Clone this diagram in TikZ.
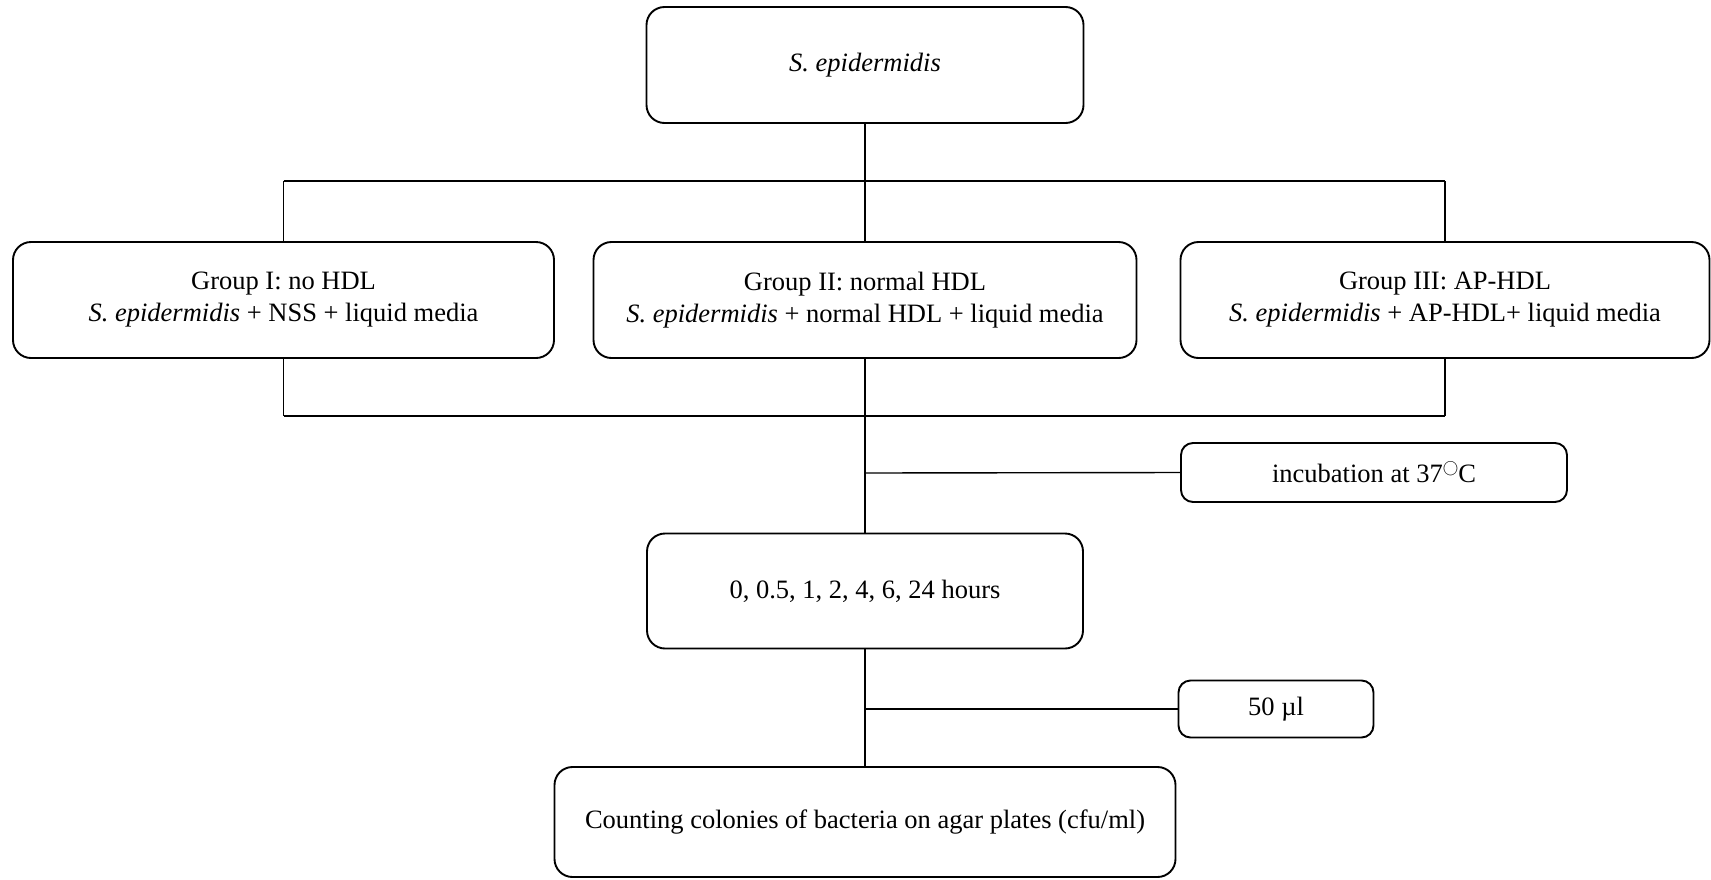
\documentclass[tikz,border=0pt]{standalone}
\usepackage{fontspec}
\setmainfont{Liberation Serif}
\newcommand{\degcirc}{\raisebox{0.85ex}{\scalebox{0.62}{$\bigcirc$}}}
\begin{document}
\begin{tikzpicture}[x=1pt,y=-1pt,
  box/.style={draw, line width=1.9pt, rounded corners=18pt, align=center, inner sep=0pt,
    font=\fontsize{26.5}{32}\selectfont},
  conn/.style={line width=1.4pt},
  bus/.style={line width=2.4pt}]
\useasboundingbox (0,0) rectangle (1711,879);
\node[box, minimum width=437pt, minimum height=116pt] (top) at (865,65) {\textit{S. epidermidis}};
\node[box, minimum width=541pt, minimum height=116pt] (g1) at (283.5,300) {Group I: no HDL\\\textit{S. epidermidis} + NSS + liquid media};
\node[box, minimum width=543pt, minimum height=116pt] (g2) at (865,300) {Group II: normal HDL\\\textit{S. epidermidis} + normal HDL + liquid media};
\node[box, minimum width=529pt, minimum height=116pt] (g3) at (1445,300) {Group III: AP-HDL\\\textit{S. epidermidis} + AP-HDL+ liquid media};
\node[box, rounded corners=12pt, minimum width=386pt, minimum height=59pt] (incub) at (1374,472.5) {incubation at 37\degcirc C};
\node[box, minimum width=436pt, minimum height=115pt] (hours) at (865,591) {0, 0.5, 1, 2, 4, 6, 24 hours};
\node[box, rounded corners=12pt, minimum width=195pt, minimum height=57pt] (ul) at (1276,709) {50 µl};
\node[box, minimum width=621pt, minimum height=110pt] (count) at (865,822) {Counting colonies of bacteria on agar plates (cfu/ml)};
\coordinate (b1) at (865,473);
\coordinate (b2) at (865,709);
\draw[conn] (top.south) -- (g2.north);
\draw[conn] (g1.north) -- ++(0,-60);
\draw[conn] (g3.north) -- ++(0,-60);
\draw[bus] ([yshift=60pt]g1.north) -- ([yshift=60pt]g3.north);
\draw[conn] (g1.south) -- ++(0,57);
\draw[conn] (g3.south) -- ++(0,57);
\draw[bus] ([yshift=-57pt]g1.south) -- ([yshift=-57pt]g3.south);
\draw[conn] (g2.south) -- (hours.north);
\draw[conn] (b1) -- (incub.west);
\draw[conn] (hours.south) -- (count.north);
\draw[conn] (b2) -- (ul.west);
\end{tikzpicture}
\end{document}
